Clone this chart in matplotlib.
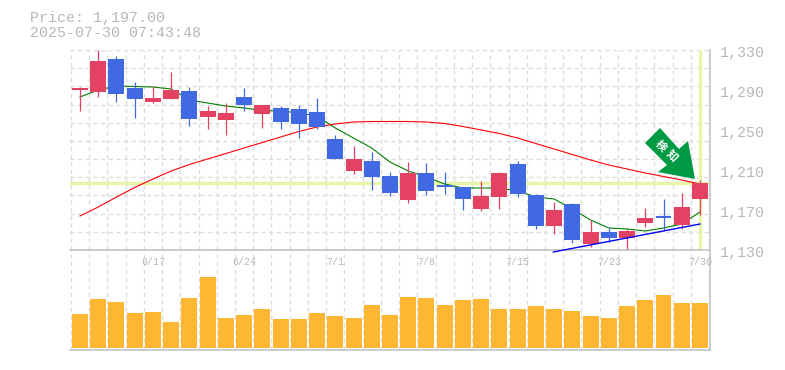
import matplotlib
matplotlib.use("Agg")
import matplotlib.pyplot as plt
import numpy as np
from matplotlib.patches import Polygon

W, H = 785, 370

# === candle data, oldest first ===
opens = [1293, 1291, 1324, 1295, 1281, 1284, 1292, 1266, 1263, 1286, 1269, 1275,
         1274, 1271, 1244, 1212, 1222, 1207, 1183, 1210, 1198, 1196, 1174, 1186,
         1219, 1188, 1157, 1179, 1139, 1151, 1145, 1160, 1167, 1158, 1184]
closes = [1295, 1322, 1289, 1284, 1285, 1293, 1264, 1272, 1270, 1278, 1278, 1261,
          1259, 1256, 1224, 1224, 1206, 1190, 1210, 1192, 1196, 1184, 1187, 1210,
          1189, 1157, 1173, 1143, 1151, 1145, 1152, 1165, 1165, 1176, 1200]
highs = [1296, 1333, 1327, 1301, 1297, 1311, 1296, 1277, 1280, 1295, 1278, 1277,
         1278, 1285, 1248, 1237, 1231, 1211, 1221, 1220, 1211, 1196, 1202, 1211,
         1222, 1189, 1181, 1180, 1163, 1155, 1154, 1175, 1184, 1190, 1203]
lows = [1272, 1286, 1281, 1265, 1280, 1284, 1257, 1254, 1248, 1272, 1255, 1254,
        1245, 1254, 1224, 1209, 1193, 1187, 1180, 1188, 1189, 1173, 1172, 1174,
        1186, 1154, 1149, 1140, 1136, 1141, 1134, 1156, 1153, 1154, 1168]
ma_short = [1286, 1293, 1297, 1296.5, 1296, 1294, 1283, 1280, 1277, 1275, 1272.5, 1272,
            1270, 1267, 1255, 1245, 1235, 1221, 1212, 1206, 1199, 1195, 1195, 1195,
            1192, 1186, 1184, 1174, 1163, 1155, 1154, 1152, 1155, 1159, 1171]
ma_long = [1167, 1176, 1186, 1195.5, 1204, 1212, 1218.5, 1224, 1229.5, 1235, 1240.5, 1246,
           1251.5, 1256, 1259, 1261, 1261.5, 1261.5, 1261.5, 1261, 1259.5, 1256.5, 1253, 1249.5,
           1245, 1239.5, 1234, 1228.5, 1223, 1218, 1214, 1210, 1206.5, 1203, 1199]
volumes = [34, 49, 46, 35, 36, 26, 50, 71, 30, 33, 39, 29, 29, 35, 32, 30, 43, 33,
           51, 50, 43, 48, 49, 39, 39, 42, 39, 37, 32, 30, 42, 48, 53, 45, 45]

trend_x = [25.96, 34]
trend_y = [1131, 1159]
price_line = 1200
date_pos = [4, 9, 14, 19, 24, 29, 34]
date_labels = ["6/17", "6/24", "7/1", "7/8", "7/15", "7/23", "7/30"]
price_ticks = [1330, 1290, 1250, 1210, 1170, 1130]

UP = "#e34262"
DOWN = "#4169e1"
GRID = "#dcdcdc"
FRAME = "#c4c4c4"
TEXT = "#b8b8b8"
HILITE = "#e6f5a8"
MONO = "Liberation Mono"
CJK = "Noto Sans CJK JP"


def fig_xy(x, y):
    return x / W, 1 - y / H


def add_axes(left, top, right, bottom):
    return fig.add_axes([left / W, 1 - bottom / H, (right - left) / W, (bottom - top) / H])


fig = plt.figure(figsize=(W / 100, H / 100), dpi=100)
ax_vol = add_axes(70, 250, 710, 350)
ax = add_axes(70, 50, 710, 250)
ax.patch.set_visible(False)
x = np.arange(len(opens))

for a in (ax, ax_vol):
    a.set_xlim(-0.548, 34.55)
    a.set_xticks(np.arange(-0.5, 35))
    a.tick_params(length=0, labelbottom=False, labelleft=False)
    a.set_axisbelow(True)
    a.grid(axis="x", color=GRID, lw=1, ls=(0, (3, 2.5)))
    a.spines[["left", "top"]].set_visible(False)
    a.spines[["right", "bottom"]].set_color(FRAME)
    a.spines[["right", "bottom"]].set_linewidth(1.2)

# === price pane ===
ax.set_ylim(1133, 1333)
ax.set_yticks(np.linspace(1133, 1333, 12))
ax.grid(axis="y", color=GRID, lw=1, ls=(0, (3, 2.5)))

ax.axhline(price_line, color=HILITE, lw=2.4, zorder=1)
ax.axvline(34, ymin=0.005, color=HILITE, lw=2.4, zorder=1)
ax.plot(x, ma_short, color="#008000", lw=0.8, zorder=2)
ax.plot(x, ma_long, color="#ff0000", lw=0.8, zorder=2)

colors = [UP if c >= o else DOWN for o, c in zip(opens, closes)]
ax.vlines(x, lows, highs, colors=colors, lw=0.9, zorder=3)
ax.bar(x, np.abs(np.array(closes) - np.array(opens)), bottom=np.minimum(opens, closes),
       width=16 / 18.24, color=colors, zorder=3)
ax.plot(trend_x, trend_y, color="#0000ff", lw=1, zorder=4, clip_on=False)

for p in price_ticks:
    fig.text(720 / W, 1 - (1383 - p) / H, f"{p:,}", family=MONO, fontsize=10.8,
             color=TEXT, ha="left", va="center")

# === volume pane ===
ax_vol.set_ylim(-2, 98)
ax_vol.set_yticks([])
ax_vol.bar(x, volumes, width=16 / 18.24, color="#ffb733", zorder=2)
for i, lab in zip(date_pos, date_labels):
    ax_vol.text(i, 0.88, lab, transform=ax_vol.get_xaxis_transform(), family=MONO,
                fontsize=7.2, color=TEXT, ha="center", va="center", zorder=3, clip_on=False)

# === top left read-out ===
fig.text(30 / W, 1 - 18 / H, "Price: 1,197.00", family=MONO, fontsize=10.8, color=TEXT, va="center")
fig.text(30 / W, 1 - 33 / H, "2025-07-30 07:43:48", family=MONO, fontsize=10.8, color=TEXT, va="center")

# === signal arrow ===
arrow_px = [(660, 128), (645, 143), (667, 165), (658, 172), (695, 179), (688, 141), (679, 149)]
fig.add_artist(Polygon([fig_xy(*p) for p in arrow_px], closed=True, facecolor="#009944",
                       edgecolor="none", transform=fig.transFigure, zorder=5))
for ch, px, py in [("検", 661, 146), ("知", 672, 156)]:
    fig.text(px / W, 1 - py / H, ch, family=CJK, fontweight="bold", fontsize=8,
             color="white", rotation=-45, ha="center", va="center", rotation_mode="anchor", zorder=6)

fig.savefig("out.png", dpi=100)
